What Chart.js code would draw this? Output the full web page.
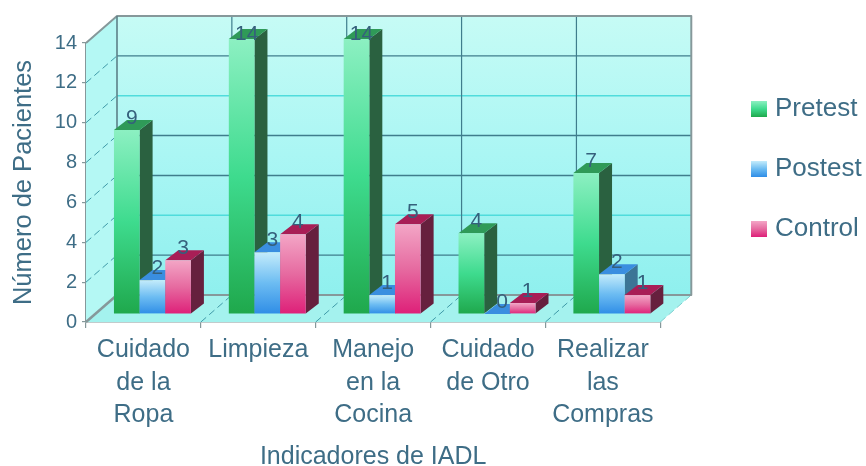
<!DOCTYPE html>
<html><head><meta charset="utf-8">
<script src="https://cdn.jsdelivr.net/npm/chart.js@4"></script>
<style>html,body{margin:0;padding:0;background:#fff}canvas{display:block;filter:blur(.45px)}</style>
</head><body><canvas id="c" width="866" height="466"></canvas>
<script>
const categories=[["Cuidado","de la","Ropa"],"Limpieza",["Manejo","en la","Cocina"],["Cuidado","de Otro"],["Realizar","las","Compras"]];
const pretest=[9.23,13.8,13.8,4.05,7.07];
const postest=[1.7,3.1,0.95,0,2.0];
const control=[2.7,4.0,4.5,0.55,0.95];
const yTicks=[0,2,4,6,8,10,12,14];
const darkGridTicks=[2,6,8,12];
const cyanGridTicks=[4,10];

const TEXT='#3e6d86';
const styles=[
 {name:'Pretest',stops:['#8cf0c2','#3edb8e','#1fa84c'],side:'#2a6140',top:'#2f9a58'},
 {name:'Postest',stops:['#c4ecfb','#6cbcf2','#2f8de6'],side:'#3c7596',top:'#3a8ee0'},
 {name:'Control',stops:['#f3a6c6','#e66aa0','#de1f78'],side:'#66203e',top:'#a81e56'}
];
const WALL={dx:31,dy:-27}, BAR={dx:9,dy:-8}, DEPTH={dx:13,dy:-10};

function grad(ctx,y0,y1,stops){const g=ctx.createLinearGradient(0,y0,0,y1);
 g.addColorStop(0,stops[0]);g.addColorStop(.5,stops[1]);g.addColorStop(1,stops[2]);return g;}
function swatch(stops){const c=document.createElement('canvas');c.width=16;c.height=16;
 const x=c.getContext('2d');x.fillStyle=grad(x,0,16,stops);x.fillRect(0,0,16,16);return c;}
function barFill(i){return ctx=>{
 const s=ctx.chart.scales.y, v=ctx.parsed?ctx.parsed.y:1;
 return grad(ctx.chart.ctx,s.getPixelForValue(v),s.getPixelForValue(0),styles[i].stops);};}
function poly(ctx,pts,fill){ctx.beginPath();pts.forEach((p,i)=>i?ctx.lineTo(p[0],p[1]):ctx.moveTo(p[0],p[1]));ctx.closePath();ctx.fillStyle=fill;ctx.fill();}
function line(ctx,x0,y0,x1,y1,col,w,dash){ctx.beginPath();ctx.setLineDash(dash||[]);ctx.moveTo(x0,y0);ctx.lineTo(x1,y1);ctx.strokeStyle=col;ctx.lineWidth=w;ctx.stroke();ctx.setLineDash([]);}

const box3d={id:'box3d',
 afterLayout(chart){const l=chart.legend;l.left=722;l.right=866;l.top=62;l.bottom=l.top+l.height;l.adjustHitBoxes();},
 beforeDatasetsDraw(chart){
  const c=chart.ctx,{x,y}=chart.scales,a=chart.chartArea,d=WALL;
  const top=y.getPixelForValue(14),bot=y.getPixelForValue(0),L=a.left,R=a.right;
  const n=categories.length,gw=(R-L)/n;
  c.save();
  poly(c,[[L,top],[L+d.dx,top+d.dy],[L+d.dx,bot+d.dy],[L,bot]],'#b4f8f4');
  poly(c,[[L+d.dx,top+d.dy],[R+d.dx,top+d.dy],[R+d.dx,bot+d.dy],[L+d.dx,bot+d.dy]],grad(c,top+d.dy,bot+d.dy,['#c6fbf5','#aaf6f4','#8ff0ee']));
  poly(c,[[L,bot],[L+d.dx,bot+d.dy],[R+d.dx,bot+d.dy],[R,bot]],'#a4f2ee');
  yTicks.slice(1,-1).forEach(v=>{const p=y.getPixelForValue(v);
   const dark=darkGridTicks.includes(v);
   line(c,L+d.dx,p+d.dy,R+d.dx,p+d.dy,dark?'#3f7d8c':'#4fdcdc',1.4);
   line(c,L,p,L+d.dx,p+d.dy,'#3f9aa8',1,[7,4]);
  });
  for(let i=1;i<n;i++){const px=L+i*gw;
   line(c,px+d.dx,top+d.dy,px+d.dx,bot+d.dy,'#3f7d8c',1.2);
   line(c,px,bot,px+d.dx,bot+d.dy,'#3f9aa8',1,[7,4]);
  }
  line(c,R,bot,R+d.dx,bot+d.dy,'#7fcfcf',1,[7,4]);
  c.lineJoin='round';
  c.strokeStyle='#86989a';c.lineWidth=2;c.beginPath();
  c.moveTo(L,top);c.lineTo(L+d.dx,top+d.dy);c.lineTo(R+d.dx,top+d.dy);c.lineTo(R+d.dx,bot+d.dy);c.lineTo(L+d.dx,bot+d.dy);c.stroke();
  line(c,L+d.dx,top+d.dy,L+d.dx,bot+d.dy,'#5c8088',1.6);
  line(c,L,bot,L+d.dx,bot+d.dy,'#86989a',2.5);
  c.restore();
 },
 beforeDatasetDraw(){return false;},
 afterDatasetsDraw(chart){
  const c=chart.ctx,top=chart.scales.y.getPixelForValue(14);
  const metas=chart.data.datasets.map((_,i)=>chart.getDatasetMeta(i));
  c.save();c.translate(BAR.dx,BAR.dy);
  metas.forEach((m,k)=>{const st=styles[k];
   m.data.forEach(b=>{
    const l=b.x-b.width/2,r=b.x+b.width/2,t=b.y,bs=b.base;
    if(bs-t>0)poly(c,[[r,t],[r+DEPTH.dx,t+DEPTH.dy],[r+DEPTH.dx,bs+DEPTH.dy],[r,bs]],st.side);
    poly(c,[[l,t],[l+DEPTH.dx,t+DEPTH.dy],[r+DEPTH.dx,t+DEPTH.dy],[r,t]],st.top);
    b.draw(c);
   });
  });
  c.font='21px "Liberation Sans"';c.fillStyle='#35607c';c.textAlign='center';c.textBaseline='middle';
  metas.forEach((m,k)=>{
   m.data.forEach((b,i)=>{
    const v=chart.data.datasets[k].data[i];
    c.fillText(String(Math.round(v)),b.x+5,Math.max(b.y-12,top-1));
   });
  });
  c.restore();
 }
};

new Chart(document.getElementById('c'),{
 type:'bar',
 data:{labels:categories,datasets:[
  {label:'Pretest',data:pretest,backgroundColor:barFill(0)},
  {label:'Postest',data:postest,backgroundColor:barFill(1)},
  {label:'Control',data:control,backgroundColor:barFill(2)}
 ]},
 options:{
  responsive:false,animation:false,
  layout:{padding:{top:43,right:56,left:0,bottom:0}},
  categoryPercentage:.67,barPercentage:1,
  plugins:{
   tooltip:{enabled:false},
   legend:{position:'right',align:'start',
    labels:{usePointStyle:true,boxWidth:6,pointStyleWidth:6,padding:34,color:TEXT,
     font:{family:'"Liberation Sans"',size:26},
     generateLabels:()=>styles.map((s,i)=>({text:s.name,pointStyle:swatch(s.stops),datasetIndex:i,fontColor:TEXT,lineWidth:0,strokeStyle:'transparent',fillStyle:'transparent'}))}}
  },
  scales:{
   x:{grid:{drawOnChartArea:false,color:'#86989a',tickLength:6,lineWidth:1.2,offset:true},
      border:{color:'#86989a',width:1.5},
      afterFit(s){s.height=144;},
      ticks:{color:TEXT,maxRotation:0,autoSkip:false,padding:6,font:{family:'"Liberation Sans"',size:25,lineHeight:1.3}},
      title:{display:true,text:'Indicadores de IADL',color:TEXT,font:{family:'"Liberation Sans"',size:25,lineHeight:.7},padding:{top:0,bottom:0}}},
   y:{min:0,max:14,
      grid:{drawOnChartArea:false,color:'#86989a',tickLength:4,lineWidth:1.2},
      border:{color:'#86989a',width:2},
      afterFit(s){s.width=86;},
      afterBuildTicks(s){s.ticks=yTicks.map(v=>({value:v}));},
      ticks:{color:TEXT,padding:5,font:{family:'"Liberation Sans"',size:20}},
      title:{display:true,text:'Número de Pacientes',color:TEXT,font:{family:'"Liberation Sans"',size:25.5,lineHeight:1.2},padding:{top:9,bottom:0}}}
  }
 },
 plugins:[box3d]
});
</script></body></html>
